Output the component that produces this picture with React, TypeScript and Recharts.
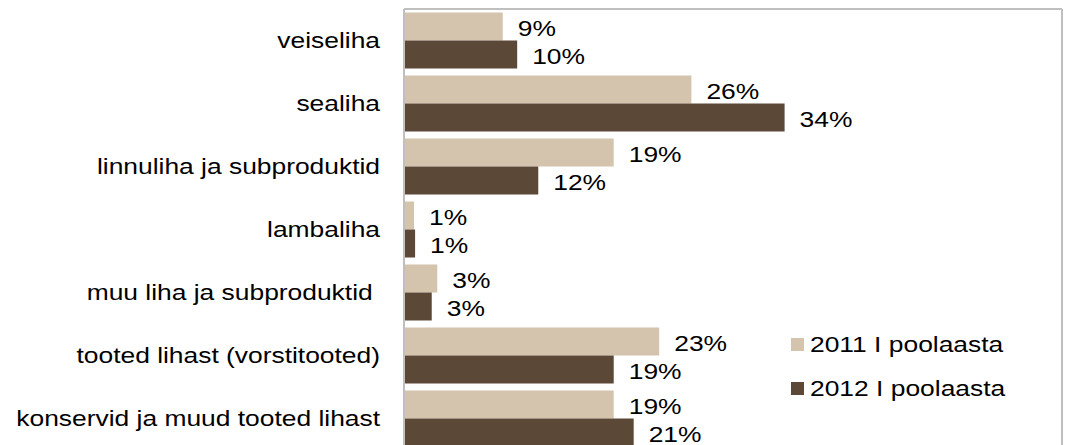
import React from 'react';
import { BarChart, Bar, XAxis, YAxis, LabelList, Legend } from 'recharts';

const categories = [
  'veiseliha',
  'sealiha',
  'linnuliha ja subproduktid',
  'lambaliha',
  'muu liha ja subproduktid\u00a0',
  'tooted lihast (vorstitooted)',
  'konservid ja muud tooted lihast',
];
const series2011 = [8.9, 25.9, 18.9, 0.9, 3.0, 23.0, 18.9];
const series2012 = [10.2, 34.3, 12.1, 1.0, 2.5, 18.9, 20.7];
const seriesNames = ['2011 I poolaasta', '2012 I poolaasta'];
const xDomain = [0, 59.3];

const LIGHT = '#D5C4AD';
const DARK = '#5C4837';
const BORDER = '#BFBFBF';
const FONT = '"Liberation Sans", Arial, sans-serif';
const SX = 1.2;

const data = categories.map((c, i) => ({ name: c, a: series2011[i], b: series2012[i] }));

const CatTick = (props: any) => {
  const { x, y, payload } = props;
  return (
    <g transform={`translate(${x},${y})`}>
      <text transform={`scale(${SX},1)`} x={0} y={0} dy="0.355em" textAnchor="end" fontSize={22} fontFamily={FONT} fill="#000">
        {payload.value}
      </text>
    </g>
  );
};

const ValueLabel = (props: any) => {
  const { x, y, width, height, value } = props;
  const tx = Number(x) + Number(width) + 15;
  const ty = Number(y) + Number(height) / 2 + 2;
  return (
    <g transform={`translate(${tx},${ty})`}>
      <text transform={`scale(${SX},1)`} x={0} y={0} dy="0.355em" textAnchor="start" fontSize={22} fontFamily={FONT} fill="#000">
        {`${Math.round(Number(value))}%`}
      </text>
    </g>
  );
};

const LegendContent = () => (
  <div style={{ fontFamily: FONT, fontSize: 22, color: '#000' }}>
    {seriesNames.map((n, i) => (
      <div key={n} style={{ display: 'flex', alignItems: 'center', height: 44 }}>
        <div style={{ width: 13, height: 13, background: i === 0 ? LIGHT : DARK, marginRight: 6, flex: 'none' }} />
        <span style={{ display: 'inline-block', transform: `scaleX(${SX})`, transformOrigin: 'left center', whiteSpace: 'nowrap', lineHeight: '22px' }}>{n}</span>
      </div>
    ))}
  </div>
);

export default function App() {
  return (
    <div style={{ width: 1057, height: 445 }}>
      <style>{'html{overflow:hidden;}'}</style>
      <BarChart
        width={1057}
        height={445}
        data={data}
        layout="vertical"
        margin={{ top: 0, right: 2, bottom: 3, left: 0 }}
        barCategoryGap={3.5}
        barGap={0}
      >
        <XAxis type="number" orientation="top" domain={xDomain} height={1} tick={false} tickLine={false} axisLine={{ stroke: BORDER, strokeWidth: 2 }} />
        <YAxis
          type="category"
          dataKey="name"
          width={396}
          tickSize={0}
          tickMargin={24}
          tickLine={false}
          axisLine={{ stroke: BORDER, strokeWidth: 2 }}
          tick={<CatTick />}
          interval={0}
        />
        <YAxis
          yAxisId="right"
          orientation="right"
          type="category"
          dataKey="name"
          width={1}
          tick={false}
          tickLine={false}
          axisLine={{ stroke: BORDER, strokeWidth: 2 }}
        />
        <Legend
          layout="horizontal"
          verticalAlign="middle"
          align="center"
          wrapperStyle={{ position: 'absolute', left: 783, top: 314.5, width: 'auto' }}
          content={<LegendContent />}
        />
        <Bar dataKey="a" name={seriesNames[0]} fill={LIGHT} isAnimationActive={false}>
          <LabelList dataKey="a" content={<ValueLabel />} />
        </Bar>
        <Bar dataKey="b" name={seriesNames[1]} fill={DARK} isAnimationActive={false}>
          <LabelList dataKey="b" content={<ValueLabel />} />
        </Bar>
      </BarChart>
    </div>
  );
}
